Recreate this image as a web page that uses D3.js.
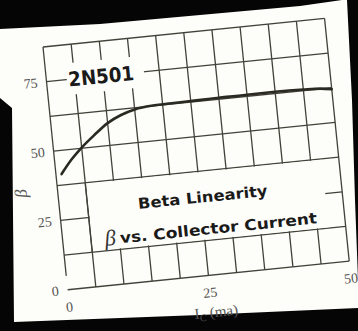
<!DOCTYPE html>
<html><head><meta charset="utf-8">
<script src="https://cdn.jsdelivr.net/npm/d3@7"></script>
<style>html,body{margin:0;padding:0;background:#000;}svg{display:block}</style>
</head><body><svg id="c" width="358" height="331"></svg>
<script>
// ---- data ----
const xTickValues = [0, 25, 50];
const xTickLabels = ["0", "25", "50"];
const yTickValues = [0, 25, 50, 75];
const yTickLabels = ["0", "25", "50", "75"];
const collectorCurrent = [1, 3, 5, 7.5, 10, 12.5, 15, 18, 22, 26, 30, 35, 40, 45, 48, 50];
const betaValues      = [41.5, 46.3, 50.2, 54.3, 58, 60.4, 61.9, 62.6, 62.8, 62.9, 63, 63.1, 63.1, 62.9, 62.6, 62];
const deviceLabel = "2N501";
const titleLine1 = "Beta Linearity";
const titleLine2 = "vs. Collector Current";

const svg = d3.select("#c");
const W = 283, H = 244;
const x = d3.scaleLinear().domain([0, 50]).range([0, W]);
const y = d3.scaleLinear().domain([0, 87.5]).range([H, 0]);

// background / paper
svg.append("rect").attr("width", 358).attr("height", 331).attr("fill", "#050505");
svg.append("polygon")
  .attr("points", [[0,29],[100,24],[200,15],[300,6],[342,0],[347,0],[352,100],[355,200],[358,280],[358,308],[200,315],[14,322],[12,108],[0,98]].map(p=>p.join(",")).join(" "))
  .attr("fill", "#fdfdf9");

const g = svg.append("g").attr("transform", "translate(43,47) rotate(-5.8)");
const ink = "#42423a";

// grid
const xs = d3.range(0, 50.01, 5), ys = d3.range(0, 87.6, 12.5);
g.selectAll(".vx").data(xs).join("line")
  .attr("x1", d => x(d)).attr("x2", d => x(d)).attr("y1", y(87.5)).attr("y2", d => d === 0 ? y(5) : y(0))
  .attr("stroke", ink).attr("stroke-width", 1.3);
g.selectAll(".hy").data(ys).join("line")
  .attr("x1", x(0)).attr("x2", x(50)).attr("y1", d => y(d)).attr("y2", d => y(d))
  .attr("stroke", ink).attr("stroke-width", 1.3);

// white label boxes
g.append("rect").attr("x", x(3.6)).attr("y", y(80.8)).attr("width", x(17.3) - x(3.6)).attr("height", y(69.5) - y(80.8)).attr("fill", "#fdfdf9");
g.append("rect").attr("x", x(5) + 1).attr("y", y(37.5) + 1).attr("width", x(47) - x(5) - 1).attr("height", y(12.5) - y(37.5) - 2).attr("fill", "#fdfdf9");
g.append("line").attr("x1", x(5)).attr("x2", x(5)).attr("y1", y(37.5)).attr("y2", y(12.5)).attr("stroke", ink).attr("stroke-width", 1.3);

// curve
const line = d3.line().x((d, i) => x(collectorCurrent[i])).y(d => y(d)).curve(d3.curveMonotoneX);
g.append("path").attr("d", line(betaValues)).attr("fill", "none").attr("stroke", "#2a2a22").attr("stroke-width", 2.6).attr("stroke-linecap", "round");

// y tick labels
g.selectAll(".yl").data(yTickValues).join("text")
  .attr("x", -9).attr("y", d => y(d)).attr("dy", "0.35em").attr("text-anchor", "end")
  .attr("font-family", "Liberation Serif, DejaVu Serif, serif").attr("font-size", 14).attr("fill", "#555")
  .text((d, i) => yTickLabels[i]);
// x tick labels
g.selectAll(".xl").data(xTickValues).join("text")
  .attr("x", d => x(d)).attr("y", y(0) + 22).attr("text-anchor", "middle")
  .attr("font-family", "Liberation Serif, DejaVu Serif, serif").attr("font-size", 14).attr("fill", "#555")
  .text((d, i) => xTickLabels[i]);
// x axis title
const xt = g.append("text").attr("x", x(25) + 4).attr("y", y(0) + 42).attr("text-anchor", "middle")
  .attr("font-family", "Liberation Serif, DejaVu Serif, serif").attr("font-size", 15).attr("fill", "#555");
xt.append("tspan").text("I");
xt.append("tspan").attr("font-size", 10).attr("dy", 3).text("C");
xt.append("tspan").attr("dy", -3).text(" (ma)");
// y axis title
g.append("text").attr("transform", `translate(-31,${y(36)}) rotate(-90)`).attr("text-anchor", "middle")
  .attr("font-family", "Liberation Serif, DejaVu Serif, serif").attr("font-style", "italic").attr("font-size", 17).attr("fill", "#555")
  .text("β");

// device label
g.append("text").attr("x", x(9.7)).attr("y", y(75)).attr("dy", "0.36em").attr("text-anchor", "middle")
  .attr("font-family", "DejaVu Sans, sans-serif").attr("font-weight", "bold").attr("font-size", 20)
  .attr("textLength", 66).attr("lengthAdjust", "spacingAndGlyphs").attr("fill", "#1a1a1a")
  .text(deviceLabel);
// title
g.append("text").attr("x", x(25.4)).attr("y", y(28.2)).attr("dy", "0.36em").attr("text-anchor", "middle")
  .attr("font-family", "DejaVu Sans, sans-serif").attr("font-weight", "bold").attr("font-size", 15)
  .attr("textLength", 130).attr("lengthAdjust", "spacingAndGlyphs").attr("fill", "#1a1a1a")
  .text(titleLine1);
g.append("text").attr("x", x(8.4)).attr("y", y(17.2)).attr("dy", "0.36em").attr("text-anchor", "middle")
  .attr("font-family", "Liberation Serif, DejaVu Serif, serif").attr("font-style", "italic").attr("font-size", 22).attr("fill", "#333")
  .text("β");
g.append("text").attr("x", x(27.6)).attr("y", y(16.6)).attr("dy", "0.36em").attr("text-anchor", "middle")
  .attr("font-family", "DejaVu Sans, sans-serif").attr("font-weight", "bold").attr("font-size", 15)
  .attr("textLength", 198).attr("lengthAdjust", "spacingAndGlyphs").attr("fill", "#1a1a1a")
  .text(titleLine2);
</script></body></html>
